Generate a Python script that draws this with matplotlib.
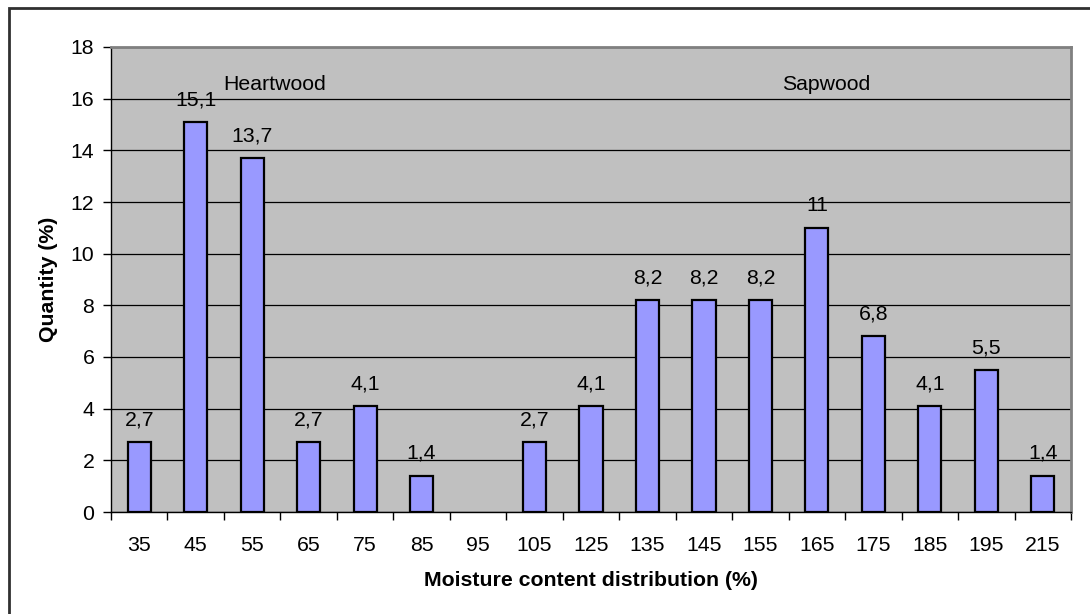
import matplotlib
matplotlib.use("Agg")
import matplotlib.pyplot as plt
from matplotlib.patches import Rectangle
import numpy as np

plt.rcParams['font.family'] = ['Liberation Sans', 'DejaVu Sans']

categories = ['35', '45', '55', '65', '75', '85', '95', '105', '125', '135',
              '145', '155', '165', '175', '185', '195', '215']
quantity = [2.7, 15.1, 13.7, 2.7, 4.1, 1.4, 0.0, 2.7, 4.1, 8.2,
            8.2, 8.2, 11.0, 6.8, 4.1, 5.5, 1.4]
value_labels = ['2,7', '15,1', '13,7', '2,7', '4,1', '1,4', '', '2,7', '4,1', '8,2',
                '8,2', '8,2', '11', '6,8', '4,1', '5,5', '1,4']
y_ticks = [0, 2, 4, 6, 8, 10, 12, 14, 16, 18]

FS = 15.3

fig = plt.figure(figsize=(10.9, 6.14), dpi=100)
fig.patch.set_facecolor('white')

# outer chart frame (left/top edges visible)
fig.patches.append(Rectangle((9 / 1090, -0.1), 1.2, 1 - 8 / 614 + 0.1,
                             transform=fig.transFigure, fill=False,
                             edgecolor='#303030', linewidth=2.0))

ax = fig.add_axes([111 / 1090, 1 - 512 / 614, 960 / 1090, 465 / 614])
ax.set_facecolor('#C0C0C0')

x = np.arange(len(categories))
edge_widths = [1.6 if v > 0 else 0 for v in quantity]
ax.bar(x, quantity, width=0.41, color='#9999FF', edgecolor='black',
       linewidth=edge_widths, zorder=3)

for xi, v, lab in zip(x, quantity, value_labels):
    if lab:
        ax.text(xi, v + 0.5, lab, ha='center', va='bottom', fontsize=FS,
                color='black', zorder=4)

ax.text(1.48, 16.55, 'Heartwood', ha='left', va='center', fontsize=FS)
ax.text(11.39, 16.55, 'Sapwood', ha='left', va='center', fontsize=FS)

ax.set_xlim(-0.5, len(categories) - 0.5)
ax.set_ylim(0, 18)
ax.set_yticks(y_ticks)
ax.set_yticklabels([str(t) for t in y_ticks], fontsize=FS)
ax.yaxis.grid(True, color='black', linewidth=0.9, zorder=1)
ax.set_axisbelow(True)

ax.set_xticks(x)
ax.set_xticklabels(categories, fontsize=FS)
ax.tick_params(axis='x', length=0, pad=17)
ax.set_xticks(np.arange(-0.5, len(categories), 1.0), minor=True)
ax.tick_params(axis='x', which='minor', length=6, width=1.0, color='black')
ax.tick_params(axis='y', length=6, width=1.0, pad=6, color='black')

for side in ('top', 'right'):
    ax.spines[side].set_color('#808080')
    ax.spines[side].set_linewidth(2.0)
for side in ('left', 'bottom'):
    ax.spines[side].set_color('black')
    ax.spines[side].set_linewidth(1.0)

ax.set_xlabel('Moisture content distribution (%)', fontsize=FS,
              fontweight='bold', labelpad=12)
ax.set_ylabel('Quantity (%)', fontsize=FS, fontweight='bold', labelpad=9)

fig.savefig('out.png', dpi=100)
